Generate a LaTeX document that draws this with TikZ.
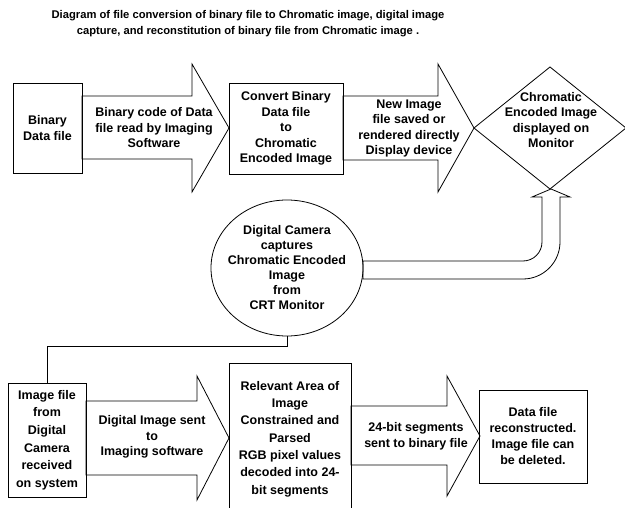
\documentclass[tikz,border=0pt]{standalone}
\usepackage{fontspec}
\setmainfont{Liberation Sans}
\usetikzlibrary{shapes.geometric}
\begin{document}
\begin{tikzpicture}[x=1pt,y=-1pt,line width=0.8pt,
  box/.style={draw,inner sep=0pt,align=center},
  lbl/.style={align=center,inner sep=0pt,font=\bfseries\fontsize{12.5}{15.5}\selectfont},
  blk/.style={draw,fill=white,line join=miter}]
\useasboundingbox (0,0) rectangle (625,508);

% title
\node[align=center,inner sep=0pt,font=\bfseries\fontsize{11.2}{16}\selectfont] (title) at (248,24)
  {Diagram of file conversion of binary file to Chromatic image, digital image\\capture, and reconstitution of binary file from Chromatic image .};

% block arrows (top row)
\draw[blk] (82,96) -- (192,96) -- (192,64) -- (229,128) -- (192,192) -- (192,159) -- (82,159) -- cycle;
\draw[blk] (343,96) -- (438,96) -- (438,64) -- (474,128) -- (438,192) -- (438,160) -- (343,160) -- cycle;
% diamond
\draw[blk] (474,128) -- (550,67) -- (626,128) -- (550,189) -- cycle;
% bent arrow up to the diamond
\draw[blk] (363,261) -- (523,261) .. controls (533.5,261) and (542,252.5) .. (542,242)
  -- (542,197) -- (532,197) -- (551,189) -- (570,197) -- (560,197) -- (560,242)
  .. controls (560,262.4) and (543.4,279) .. (523,279) -- (363,279) -- cycle;
% block arrows (bottom row)
\draw[blk] (86,401) -- (197,401) -- (197,376) -- (229,438) -- (197,500) -- (197,475) -- (86,475) -- cycle;
\draw[blk] (351,406) -- (447,406) -- (447,376) -- (480,436) -- (447,496) -- (447,465) -- (351,465) -- cycle;

% boxes
\node[box,lbl,minimum width=69pt,minimum height=90pt] (bin) at (47.5,128) {Binary\\Data file};
\node[box,lbl,minimum width=114pt,minimum height=91pt] (conv) at (286,128.5)
  {Convert Binary\\Data file\\to\\Chromatic\\Encoded Image};
\node[draw,ellipse,inner sep=0pt,minimum width=152pt,minimum height=136pt] (cam) at (287,268) {};
\node[lbl,align=center,font=\bfseries\fontsize{12.5}{15}\selectfont] (camtxt) at (287,268)
  {Digital Camera\\captures\\Chromatic Encoded\\Image\\from\\CRT Monitor};
\node[box,lbl,font=\bfseries\fontsize{12.5}{17.6}\selectfont,minimum width=78pt,minimum height=114pt] (img) at (47,440)
  {Image file\\from\\Digital\\Camera\\received\\on system};
\node[box,lbl,font=\bfseries\fontsize{12.5}{17.3}\selectfont,minimum width=122pt,minimum height=149pt] (rel) at (290,437.5) {};
\node[lbl,font=\bfseries\fontsize{12.5}{17.3}\selectfont] (reltxt) at (290,439)
  {Relevant Area of\\Image\\Constrained and\\Parsed\\RGB pixel values\\decoded into 24-\\bit segments};
\node[box,lbl,font=\bfseries\fontsize{12.5}{16}\selectfont,minimum width=108pt,minimum height=93pt] (rec) at (533,436.5)
  {Data file\\reconstructed.\\Image file can\\be deleted.};

% arrow / diamond labels
\node[lbl] (a1) at (154,128) {Binary code of Data\\file read by Imaging\\Software};
\node[lbl] (a2) at (409,128.5) {New Image\\file saved or\\rendered directly\\Display device};
\node[lbl] (dia) at (551,120) {Chromatic\\Encoded Image\\displayed on\\Monitor};
\node[lbl] (a3) at (152,437) {Digital Image sent\\to\\Imaging software};
\node[lbl] (a4) at (416,436.5) {24-bit segments\\sent to binary file};

% connector camera -> image file
\draw (cam.south) -- ++(0,10) -| (img.north);
\end{tikzpicture}
\end{document}
